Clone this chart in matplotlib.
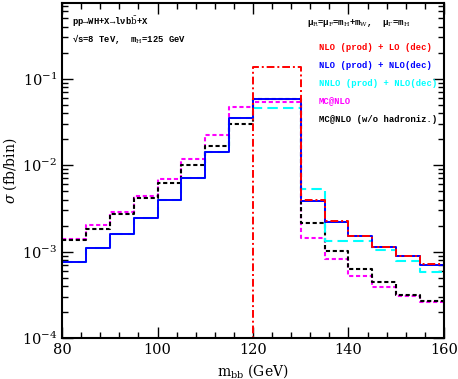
import numpy as np
import matplotlib
matplotlib.use("Agg")
import matplotlib.pyplot as plt
from matplotlib.ticker import MultipleLocator, LogLocator, NullFormatter

edges = np.arange(80, 161, 5)

nlo_lo = [0, 0, 0, 0, 0, 0, 0, 0, 0.138, 0.138,
          3.9e-3, 2.23e-3, 1.52e-3, 1.13e-3, 8.9e-4, 7.2e-4]
nlo_nlo = [7.6e-4, 1.09e-3, 1.61e-3, 2.46e-3, 3.96e-3, 7.0e-3, 1.40e-2, 3.53e-2, 5.89e-2, 5.89e-2,
           3.89e-3, 2.21e-3, 1.51e-3, 1.12e-3, 9.0e-4, 7.0e-4]
nnlo_nlo = [7.6e-4, 1.09e-3, 1.61e-3, 2.46e-3, 3.96e-3, 7.0e-3, 1.40e-2, 3.5e-2, 4.52e-2, 4.52e-2,
            5.3e-3, 1.31e-3, 1.31e-3, 1.04e-3, 7.7e-4, 5.8e-4]
mcnlo = [1.39e-3, 2.01e-3, 2.86e-3, 4.34e-3, 6.9e-3, 1.18e-2, 2.21e-2, 4.76e-2, 5.35e-2, 5.35e-2,
         1.43e-3, 8.1e-4, 5.25e-4, 3.9e-4, 3.04e-4, 2.61e-4]
mcnlo_nohad = [1.36e-3, 1.84e-3, 2.69e-3, 4.14e-3, 6.27e-3, 1.0e-2, 1.65e-2, 2.96e-2, 5.74e-2, 5.74e-2,
               2.14e-3, 1.02e-3, 6.2e-4, 4.4e-4, 3.15e-4, 2.69e-4]

labels = ["NLO (prod) + LO (dec)", "NLO (prod) + NLO(dec)", "NNLO (prod) + NLO(dec)",
          "MC@NLO", "MC@NLO (w/o hadroniz.)"]

plt.rcParams['font.family'] = ['DejaVu Serif']
plt.rcParams['mathtext.fontset'] = 'dejavuserif'

fig = plt.figure(figsize=(4.58, 3.79), dpi=100)
ax = fig.add_axes([62/458, 1-338/379, (444-62)/458, (338-3)/379])
ax.set_yscale('log')

def st(vals, **kw):
    v = np.array(vals, dtype=float)
    ax.step(edges, np.append(v, v[-1]), where='post', **kw)

st(mcnlo, color='#ff00ff', lw=1.5, dashes=(2.0, 1.3))
st(mcnlo_nohad, color='black', lw=1.5, dashes=(2.0, 1.3))
st(nnlo_nlo, color='#00ffff', lw=1.5, dashes=(5, 2.5))
st(nlo_nlo, color='#0000ff', lw=1.4)
st(nlo_lo, color='#ff0000', lw=1.4, dashes=(4, 1.5, 1, 1.5))

ax.set_xlim(80, 160)
ax.set_ylim(1e-4, 0.75)

ax.xaxis.set_major_locator(MultipleLocator(20))
ax.xaxis.set_minor_locator(MultipleLocator(4))
ax.yaxis.set_major_locator(LogLocator(base=10, numticks=10))
ax.yaxis.set_minor_locator(LogLocator(base=10, subs=np.arange(2, 10), numticks=20))
ax.yaxis.set_minor_formatter(NullFormatter())
ax.tick_params(which='both', direction='in', top=True, right=True, labelsize=10.5)
ax.tick_params(which='major', length=8, width=1)
ax.tick_params(which='minor', length=4, width=1)
for s in ax.spines.values():
    s.set_linewidth(1.5)

ax.set_xlabel(r'm$_{\rm bb}$ (GeV)', fontsize=10)
ax.set_ylabel(r'$\sigma$ (fb/bin)', fontsize=10, labelpad=2)

mono = dict(family='Liberation Mono', weight='bold', fontsize=6.4, va='center')
fig.text(72/458, 1-22/379, r'pp→WH+X→lνb$\bar{\rm b}$+X', **mono)
fig.text(72/458, 1-39/379, r'√s=8 TeV,  m$_{\rm H}$=125 GeV', **mono)
fig.text(307/458, 1-23/379, r'μ$_{\rm R}$=μ$_{\rm F}$=m$_{\rm H}$+m$_{\rm W}$,  μ$_\Gamma$=m$_{\rm H}$', **mono)
colors = ['#ff0000', '#0000ff', '#00ffff', '#ff00ff', 'black']
ys = [48, 66, 83, 101, 119]
for lab, c, y in zip(labels, colors, ys):
    fig.text(319/458, 1-y/379, lab, color=c, **mono)

fig.savefig('out.png', dpi=100)
